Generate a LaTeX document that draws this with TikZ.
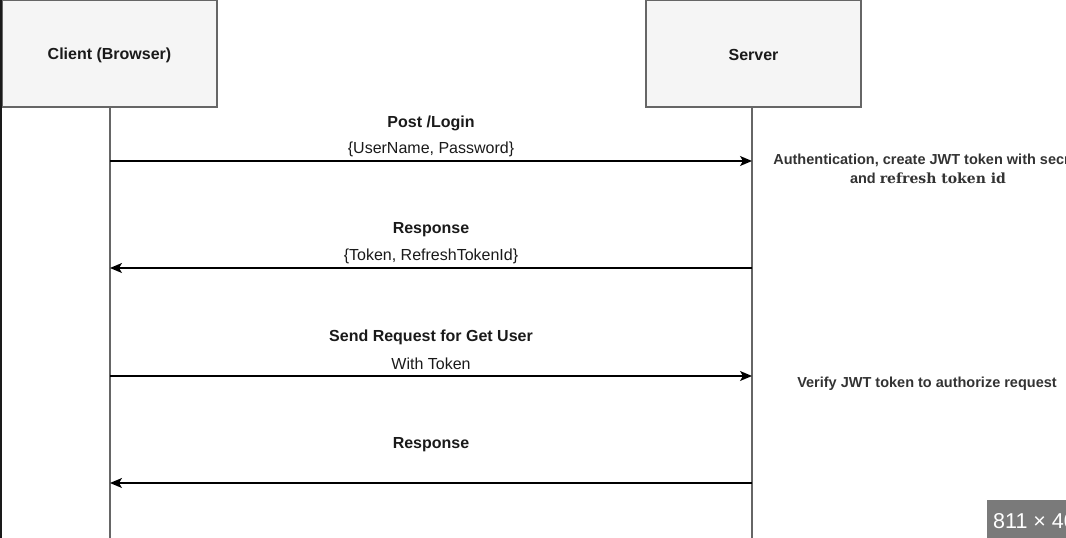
\documentclass[tikz,border=0pt]{standalone}
\usepackage{fontspec}
\setmainfont{Liberation Sans}
\newfontfamily\slabserif{DejaVu Serif}
\usetikzlibrary{arrows.meta}
\definecolor{boxfill}{HTML}{F5F5F5}
\definecolor{boxline}{HTML}{666666}
\definecolor{ink}{HTML}{1A1A1A}
\definecolor{notetext}{HTML}{333333}
\definecolor{badge}{HTML}{7A7A7A}
\tikzset{
  actor/.style={draw=boxline, fill=boxfill, line width=1.2pt, minimum width=215pt,
    minimum height=107pt, inner sep=0pt},
  actorname/.style={inner sep=0pt, text=ink, font=\fontsize{16}{19}\selectfont\bfseries},
  lifeline/.style={draw=boxline, line width=1.6pt},
  msg/.style={draw=black, line width=1.3pt,
    -{Stealth[length=12pt,width=10pt,inset=3pt]}},
  lbl/.style={inner sep=0pt, text=ink, font=\fontsize{16}{19}\selectfont\bfseries},
  sub/.style={inner sep=0pt, text=ink, font=\fontsize{16}{19}\selectfont},
  note/.style={inner sep=0pt, text=notetext, align=center,
    font=\fontsize{14.5}{19}\selectfont\bfseries},
}
\begin{document}
\begin{tikzpicture}[x=1pt, y=-1pt]
\useasboundingbox (0,0) rectangle (1066,538);
\clip (0,0) rectangle (1066,538);

% participants
\node[actor, label={[actorname, yshift=-2pt]center:Client (Browser)}] (client) at (109.5,53.5) {};
\node[actor, label={[actorname, yshift=-1.5pt]center:Server}] (server) at (753.5,53.5) {};

% lifelines
\coordinate (clientend) at (110,545);
\coordinate (serverend) at (752,545);
\draw[lifeline] (client.south -| clientend) -- (clientend);
\draw[lifeline] (server.south -| serverend) -- (serverend);

% message anchor points on the lifelines
\coordinate (c1) at (110,161); \coordinate (s1) at (752,161);
\coordinate (c2) at (110,268); \coordinate (s2) at (752,268);
\coordinate (c3) at (110,376); \coordinate (s3) at (752,376);
\coordinate (c4) at (110,483); \coordinate (s4) at (752,483);

% messages
\draw[msg] (c1) -- (s1);
\draw[msg] (s2) -- (c2);
\draw[msg] (c3) -- (s3);
\draw[msg] (s4) -- (c4);

% message labels
\node[lbl] (m1) at (431,123) {Post /Login};
\node[sub] (m1d) at (431,149) {\{UserName, Password\}};
\node[lbl] (m2) at (431,230) {Response};
\node[sub] (m2d) at (431,256) {\{Token, RefreshTokenId\}};
\node[lbl] (m3) at (431,337) {Send Request for Get User};
\node[sub] (m3d) at (431,364) {With Token};
\node[lbl] (m4) at (431,445) {Response};

% server-side notes
\node[note] (n1) at (928,169) {Authentication, create JWT token with secret\\
  and {\slabserif\fontsize{14}{19}\selectfont refresh token id}};
\node[note] (n2) at (927,384) {Verify JWT token to authorize request};

% left edge rule
\draw[ink, line width=2.2pt] (1.1,0) -- (1.1,538);

% size badge
\fill[badge] (987,500) rectangle (1070,540);
\node[anchor=base west, inner sep=0pt, text=white,
  font=\fontsize{21.5}{24}\selectfont] (sz) at (993,528) {811 × 40};
\end{tikzpicture}
\end{document}
